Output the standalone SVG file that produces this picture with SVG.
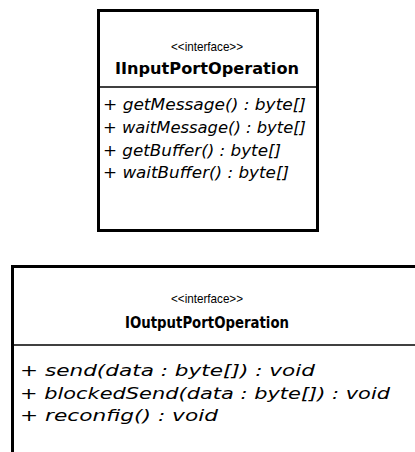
<svg xmlns="http://www.w3.org/2000/svg" width="415" height="452" viewBox="0 0 415 452">
  <style>
    .box { fill: #fff; stroke: #000; stroke-width: 3; }
    .sep { stroke: #000; stroke-width: 1.5; }
    .stereo { font-family: "Liberation Sans", Arial, sans-serif; font-size: 13px; fill: #000; text-anchor: middle; }
    .name { font-family: "DejaVu Sans", "Liberation Sans", sans-serif; font-size: 15px; font-weight: bold; fill: #000; text-anchor: middle; }
    .op { font-family: "DejaVu Sans", "Liberation Sans", sans-serif; font-size: 15px; font-style: italic; fill: #000; }
  </style>
  <rect width="415" height="452" fill="#fff"/>

  <!-- interface box: input side -->
  <g id="IInputPortOperation">
    <rect class="box" x="98.5" y="10.5" width="219" height="220"/>
    <text class="stereo" x="207" y="51" textLength="72" lengthAdjust="spacingAndGlyphs">&lt;&lt;interface&gt;&gt;</text>
    <text class="name" x="207" y="74" textLength="184" lengthAdjust="spacingAndGlyphs">IInputPortOperation</text>
    <line class="sep" x1="98" y1="87" x2="318" y2="87"/>
    <text class="op" x="103" y="110" textLength="203" lengthAdjust="spacingAndGlyphs">+ getMessage() : byte[]</text>
    <text class="op" x="103" y="133" textLength="203" lengthAdjust="spacingAndGlyphs">+ waitMessage() : byte[]</text>
    <text class="op" x="103" y="156" textLength="178" lengthAdjust="spacingAndGlyphs">+ getBuffer() : byte[]</text>
    <text class="op" x="103" y="178" textLength="186" lengthAdjust="spacingAndGlyphs">+ waitBuffer() : byte[]</text>
  </g>

  <!-- interface box: output side (runs off the right and bottom edges) -->
  <g id="IOutputPortOperation">
    <path class="box" d="M12.5 460 V266.5 H420"/>
    <text class="stereo" x="207" y="303" textLength="72" lengthAdjust="spacingAndGlyphs">&lt;&lt;interface&gt;&gt;</text>
    <text class="name" x="207" y="328" textLength="164" lengthAdjust="spacingAndGlyphs">IOutputPortOperation</text>
    <line class="sep" x1="12" y1="345" x2="415" y2="345"/>
    <text class="op" x="20" y="376" textLength="295" lengthAdjust="spacingAndGlyphs">+ send(data : byte[]) : void</text>
    <text class="op" x="20" y="399" textLength="370" lengthAdjust="spacingAndGlyphs">+ blockedSend(data : byte[]) : void</text>
    <text class="op" x="20" y="421" textLength="198" lengthAdjust="spacingAndGlyphs">+ reconfig() : void</text>
  </g>
</svg>
